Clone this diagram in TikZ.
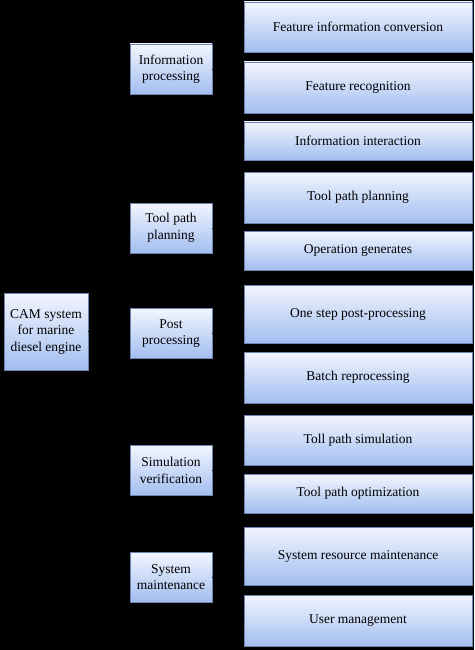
\documentclass[tikz,border=0pt]{standalone}
\usepackage{fontspec}
\setmainfont{Liberation Serif}
\usetikzlibrary{calc, positioning}
\definecolor{boxtop}{HTML}{F2F5FE}
\definecolor{boxbottom}{HTML}{A2BEF0}
\definecolor{boxline}{HTML}{6F84AE}
\tikzset{
  box/.style={
    rectangle,
    top color=boxtop,
    bottom color=boxbottom,
    draw=boxline,
    thin,
    inner sep=0pt,
    align=center,
    font=\fontsize{13.5}{16.5}\selectfont},
  leafbox/.style={box, minimum width=228pt},
  midbox/.style={box, minimum width=82pt, minimum height=50pt},
  rootbox/.style={box, minimum width=84pt, minimum height=77pt},
  line/.style={draw=black, thick},
}
\begin{document}
\begin{tikzpicture}[x=1pt, y=-1pt]
	\fill[black] (0,0) rectangle (474,650);
	\useasboundingbox (0,0) rectangle (474,650);

	\node [rootbox] (cam) at (46,331.5) {CAM system\\for marine\\diesel engine};

	\node [midbox] (info) at (171,69)    {Information\\processing};
	\node [midbox] (plan) at (171,228)   {Tool path\\planning};
	\node [midbox] (post) at (171,333.5) {Post\\processing};
	\node [midbox] (simu) at (171,470.5) {Simulation\\verification};
	\node [midbox] (main) at (171,577)   {System\\maintenance};

	\node [leafbox, minimum height=50pt] (conv) at (358,27)    {Feature information conversion};
	\node [leafbox, minimum height=51pt] (reco) at (358,87.5)  {Feature recognition};
	\node [leafbox, minimum height=38pt] (inte) at (358,141)   {Information interaction};
	\node [leafbox, minimum height=51pt] (tool) at (358,197.5) {Tool path planning};
	\node [leafbox, minimum height=39pt] (oper) at (358,250.5) {Operation generates};
	\node [leafbox, minimum height=58pt] (step) at (358,314)   {One step post-processing};
	\node [leafbox, minimum height=51pt] (batc) at (358,377.5) {Batch reprocessing};
	\node [leafbox, minimum height=50pt] (tsim) at (358,440)   {Toll path simulation};
	\node [leafbox, minimum height=39pt] (topt) at (358,493.5) {Tool path optimization};
	\node [leafbox, minimum height=58pt] (sres) at (358,556)   {System resource maintenance};
	\node [leafbox, minimum height=51pt] (user) at (358,620.5) {User management};

	% connectors (black on black)
	\coordinate (trunk) at ($(cam.east)+(21,0)$);
	\foreach \m in {info, plan, post, simu, main}
		\draw [line] (cam.east) -- (trunk) |- (\m.west);
	\foreach \m/\a/\b/\c in {info/conv/reco/inte, plan/tool/oper/oper, post/step/batc/batc,
	                         simu/tsim/topt/topt, main/sres/user/user}
		\draw [line] (\m.east) -- ++(16,0) coordinate (j) |- (\a.west)
			(j) |- (\b.west) (j) |- (\c.west);
\end{tikzpicture}
\end{document}
